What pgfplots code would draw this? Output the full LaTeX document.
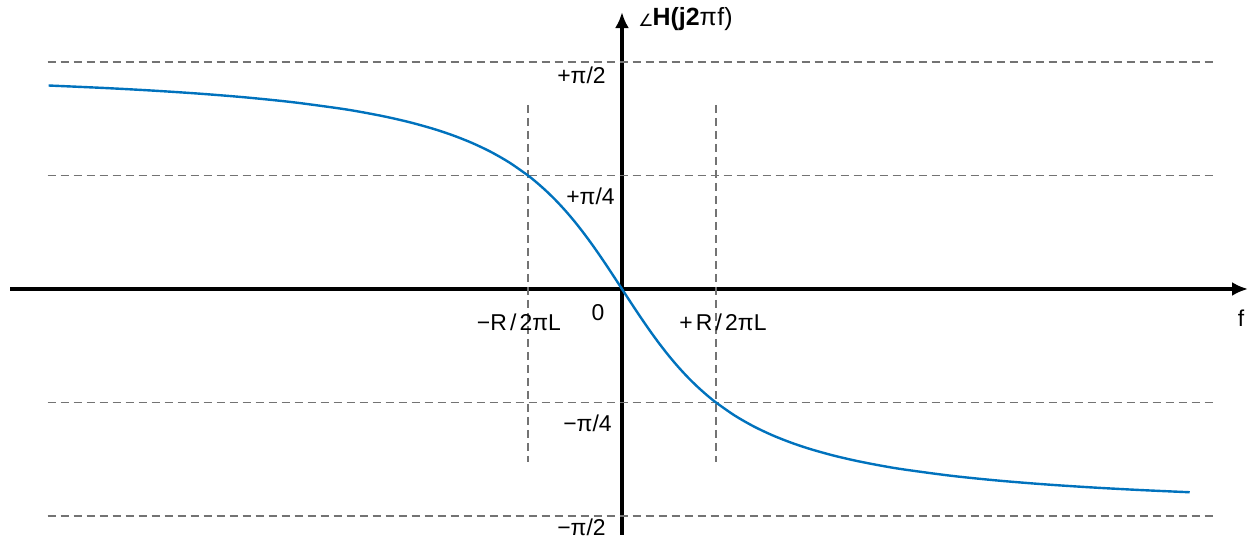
\documentclass[border=0pt]{standalone}
\usepackage{pgfplots}
\pgfplotsset{compat=1.18}
\usepackage{fontspec}
\setmainfont{Liberation Sans}
\newfontfamily\dejavu{DejaVu Sans}
\usetikzlibrary{arrows.meta}
\definecolor{curve}{RGB}{0,114,189}
\definecolor{refgray}{RGB}{115,115,115}
\begin{document}
\begin{tikzpicture}[every node/.style={font=\fontsize{11.5}{13}\selectfont}]
\begin{axis}[
  scale only axis, width=619bp, height=261.4bp,
  xmin=-6.51, xmax=6.66, ymin=-97.5, ymax=109.8,
  axis lines=middle,
  axis line style={line width=1.7bp, -{Latex[length=8bp,width=7bp]}},
  xtick=\empty, ytick=\empty, clip=false,
]
% reference lines
\addplot[refgray, line width=0.6bp, dash pattern=on 4bp off 2.5bp] coordinates {(-6.11,90) (6.32,90)};
\addplot[refgray, line width=0.6bp, dash pattern=on 4bp off 2.5bp] coordinates {(-6.11,45) (6.32,45)};
\addplot[refgray, line width=0.6bp, dash pattern=on 4bp off 2.5bp] coordinates {(-6.11,-45) (6.32,-45)};
\addplot[refgray, line width=0.6bp, dash pattern=on 4bp off 2.5bp] coordinates {(-6.11,-90) (6.32,-90)};
\addplot[refgray, line width=0.6bp, dash pattern=on 4bp off 2.5bp] coordinates {(-1,73) (-1,-68.6)};
\addplot[refgray, line width=0.6bp, dash pattern=on 4bp off 2.5bp] coordinates {(1,73) (1,-68.6)};
% phase curve
\addplot[curve, line width=1.2bp, smooth] coordinates {
(-6.1,80.690) (-5.5,79.695) (-5.0,78.690) (-4.5,77.471) (-4.0,75.964) (-3.5,74.055)
(-3.0,71.565) (-2.75,70.017) (-2.5,68.199) (-2.25,66.038) (-2.0,63.435) (-1.8,60.945)
(-1.6,57.995) (-1.4,54.462) (-1.2,50.194) (-1.0,45.0) (-0.9,41.987) (-0.8,38.660)
(-0.7,34.992) (-0.6,30.964) (-0.5,26.565) (-0.4,21.801) (-0.3,16.699) (-0.2,11.310)
(-0.1,5.711) (0,0) (0.1,-5.711) (0.2,-11.310) (0.3,-16.699) (0.4,-21.801) (0.5,-26.565)
(0.6,-30.964) (0.7,-34.992) (0.8,-38.660) (0.9,-41.987) (1.0,-45.0) (1.2,-50.194)
(1.4,-54.462) (1.6,-57.995) (1.8,-60.945) (2.0,-63.435) (2.25,-66.038) (2.5,-68.199)
(2.75,-70.017) (3.0,-71.565) (3.5,-74.055) (4.0,-75.964) (4.5,-77.471) (5.0,-78.690)
(5.5,-79.695) (6.04,-80.60)
};
% labels
\node[anchor=east, inner sep=0pt] at (axis cs:-0.17,84.9) {+π/2};
\node[anchor=east, inner sep=0pt] at (axis cs:-0.074,36.9) {+π/4};
\node[anchor=east, inner sep=0pt] at (axis cs:-0.106,-53.1) {−π/4};
\node[anchor=east, inner sep=0pt] at (axis cs:-0.17,-94.4) {−π/2};
\node[inner sep=0pt] at (axis cs:-0.255,-9.5) {0};
\node[inner sep=0pt] at (axis cs:-1.096,-13.1) {−R\kern1.6pt/\kern1.6pt2πL};
\node[inner sep=0pt] at (axis cs:1.074,-13.1) {+\kern1.6ptR\kern1.6pt/\kern1.6pt2πL};
\node[inner sep=0pt] at (axis cs:6.585,-11.5) {f};
\node[anchor=west, inner sep=0pt, font=\fontsize{12.5}{14}\selectfont] at (axis cs:0.17,106.9) {{\dejavu\fontsize{8.5}{10}\selectfont\raisebox{-0.5pt}{∠}}\kern-0.5pt\textbf{H(j2}π\kern0.3ptf)};
\coordinate (bl) at (axis cs:-6.617,-99.5);
\coordinate (tr) at (axis cs:6.66,114.6);
\end{axis}
\pgfresetboundingbox
\useasboundingbox (bl) rectangle (tr);
\end{tikzpicture}
\end{document}
